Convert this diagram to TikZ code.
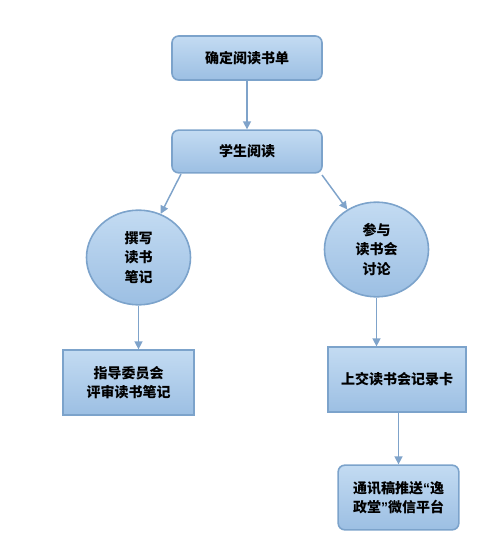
\documentclass[tikz,border=0pt]{standalone}
\usepackage{fontspec}
\newfontfamily\cjk{Noto Sans CJK SC}
\newfontfamily\lat{Liberation Sans}
\usetikzlibrary{arrows.meta,shapes.geometric}
\definecolor{bord}{HTML}{7CA3CB}
\definecolor{topc}{HTML}{C3DBF2}
\definecolor{botc}{HTML}{9CBFE3}
\definecolor{arr}{HTML}{7FA3CA}
\tikzset{
  base/.style={draw=bord, line width=1.2pt, top color=topc, bottom color=botc,
    font=\cjk\bfseries\fontsize{10.5pt}{14.5pt}\selectfont, align=center, inner sep=0pt},
  rbox/.style={base, rectangle, rounded corners=5pt},
  sbox/.style={base, rectangle},
  oval/.style={base, ellipse},
  conn/.style={draw=arr, line width=1.1pt, -{Triangle[width=6pt,length=6pt]}}
}
\begin{document}
\begin{tikzpicture}[x=0.75pt,y=-0.75pt]
\useasboundingbox (0,0) rectangle (500,556);
\node[rbox, minimum width=112.5pt, minimum height=33pt] (a) at (247,58) {确定阅读书单};
\node[rbox, minimum width=112.5pt, minimum height=32pt] (b) at (247,151.5) {学生阅读};
\node[oval, minimum width=78pt, minimum height=71pt] (c) at (138.5,257.5) {撰写\\读书\\笔记};
\node[oval, minimum width=78pt, minimum height=71pt] (d) at (376.5,249.5) {参与\\读书会\\讨论};
\node[sbox, minimum width=98pt, minimum height=48.5pt] (e) at (128.5,382.5) {指导委员会\\评审读书笔记};
\node[sbox, minimum width=103.5pt, minimum height=48.5pt] (f) at (397,379.5) {上交读书会记录卡};
\node[rbox, minimum width=90.5pt, minimum height=48.5pt] (g) at (398.5,497.5) {通讯稿推送{\lat\bfseries “}逸\\政堂{\lat\bfseries ”}微信平台};
\coordinate (b1) at (181,174);
\coordinate (b2) at (322,175);
\draw[conn] (a) -- (b);
\draw[conn] (b1) -- (c);
\draw[conn] (b2) -- (d);
\draw[conn] (c.south) -- (c.south |- e.north);
\draw[conn] (d.south) -- (d.south |- f.north);
\draw[conn] (f.south -| g.north) -- (g.north);
\end{tikzpicture}
\end{document}
